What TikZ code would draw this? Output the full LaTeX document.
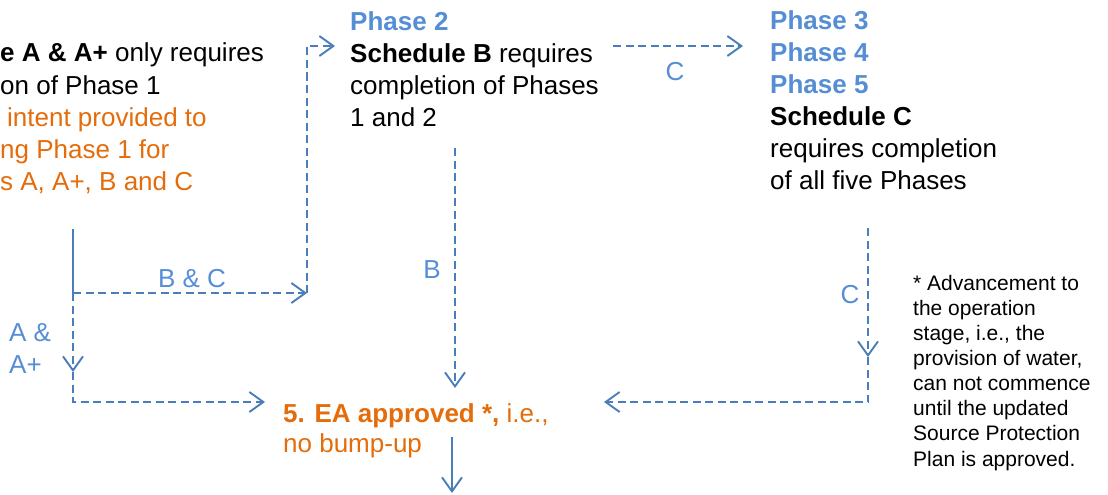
\documentclass[tikz,border=0pt]{standalone}
\usepackage{fontspec}
\setmainfont{Liberation Sans}
\usetikzlibrary{arrows.meta}
\definecolor{lblue}{RGB}{85,142,213}
\definecolor{lineblue}{RGB}{74,126,187}
\definecolor{orng}{RGB}{228,108,10}
\begin{document}
\begin{tikzpicture}[x=1pt,y=-1pt,
  txt/.style={inner sep=0pt, anchor=base west, font=\fontsize{26}{32}\selectfont, align=left},
  smalltxt/.style={inner sep=0pt, anchor=base west, font=\fontsize{21}{25.1}\selectfont, align=left},
  lbl/.style={inner sep=0pt, text=lblue, font=\fontsize{26}{32}\selectfont},
  dashline/.style={draw=lineblue, line width=1.9pt, dash pattern=on 8pt off 4.5pt},
  solidline/.style={draw=lineblue, line width=1.9pt},
  tipped/.style={-{Straight Barb[length=14pt,width=20pt,line width=1.9pt]}}
]
\useasboundingbox (0,0) rectangle (1108,495);
\begin{scope}
\clip (0,0) rectangle (1108,495);
% left block
\node[txt] (l1) at (0,62) {\textbf{e A \& A+} only requires};
\node[txt] (l2) at (0,94) {on of Phase 1};
\node[txt, text=orng] (l3) at (7,126) {intent provided to};
\node[txt, text=orng] (l4) at (0,158) {ng Phase 1 for};
\node[txt, text=orng] (l5) at (0,190) {s A, A+, B and C};
\end{scope}
% phase 2 block (base = last line)
\node[txt] (p2) at (350,126) {\textcolor{lblue}{\textbf{Phase 2}}\\\textbf{Schedule B} requires\\completion of Phases\\1 and 2};
% right block
\node[txt] (p3) at (770,189) {\textcolor{lblue}{\textbf{Phase 3}}\\\textcolor{lblue}{\textbf{Phase 4}}\\\textcolor{lblue}{\textbf{Phase 5}}\\\textbf{Schedule C}\\requires completion\\of all five Phases};
% EA approved
\node[txt, text=orng, font=\fontsize{26}{30}\selectfont] (ea) at (283,452) {\textbf{5. EA approved *,} i.e.,\\no bump-up};
% footnote
\node[smalltxt] (fn) at (913,466) {* Advancement to\\the operation\\stage, i.e., the\\provision of water,\\can not commence\\until the updated\\Source Protection\\Plan is approved.};
% labels
\node[lbl] (lbc) at (192,279) {B \& C};
\node[lbl] (lc1) at (675,72) {C};
\node[lbl] (lb) at (432,270) {B};
\node[lbl] (lc2) at (850,295) {C};
\node[lbl, anchor=west, align=left, font=\fontsize{26}{32}\selectfont] (la) at (9,349) {A \&\\A+};
% coordinates
\coordinate (s1) at (73,229);
\coordinate (j1) at (73,293);
\coordinate (j2) at (307,293);
\coordinate (k1) at (307,46);
\coordinate (k2) at (335,46);
\coordinate (a3) at (73,372);
\coordinate (c2) at (73,402);
\coordinate (a4) at (265,402);
\coordinate (b1) at (613,46);
\coordinate (b2) at (743,46);
\coordinate (b3) at (455,148);
\coordinate (b4) at (455,388);
\coordinate (c3) at (868,228);
\coordinate (c4) at (868,357);
\coordinate (c5) at (868,402);
\coordinate (c6) at (604,402);
\coordinate (d1) at (452,437);
\coordinate (d2) at (452,493);
% connectors
\draw[solidline] (s1) -- (j1);
\draw[dashline, tipped] (j1) -- (j2);
\draw[dashline, tipped] (j2) -- (k1) -- (k2);
\draw[dashline, tipped] (j1) -- (a3);
\draw[dashline, tipped] (a3) -- (c2) -- (a4);
\draw[dashline, tipped] (b1) -- (b2);
\draw[dashline, tipped] (b3) -- (b4);
\draw[dashline, tipped] (c3) -- (c4);
\draw[dashline, tipped] (c4) -- (c5) -- (c6);
\draw[solidline, tipped] (d1) -- (d2);
\end{tikzpicture}
\end{document}
